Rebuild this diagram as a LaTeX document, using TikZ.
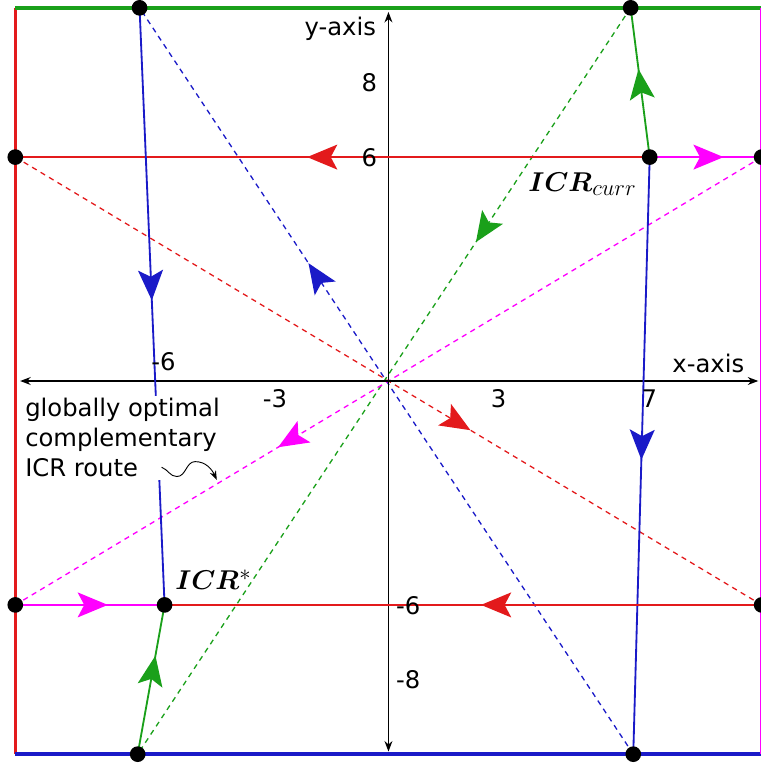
\documentclass[tikz,border=0pt]{standalone}
\usepackage{amsmath}
\usepackage{fontspec}
\setmainfont{DejaVu Sans}
\usetikzlibrary{arrows.meta,decorations.markings}
\definecolor{RouteRed}{HTML}{E31A1C}
\definecolor{RouteGreen}{HTML}{1AA01A}
\definecolor{RouteBlue}{HTML}{1A1AC8}
\definecolor{RouteMagenta}{HTML}{FF00FF}
\DeclareMathSizes{22}{22}{17.5}{13}

\tikzset{
  routetip/.tip={Stealth[length=23pt,width=19pt,inset=5pt]},
  flow/.style={postaction={decorate},decoration={markings,
    mark=at position #1 with {\arrow{routetip}}}},
  route/.style={line width=1.4pt},
  mirror/.style={line width=1pt,dash pattern=on 4pt off 3.5pt},
  border/.style={line width=2.6pt},
  axis/.style={line width=1.1pt,{Stealth[length=8pt,width=6pt]}-{Stealth[length=8pt,width=6pt]}},
  tick/.style={font=\fontsize{18.5}{23}\selectfont,inner sep=0pt},
  icr/.style={font=\fontsize{22}{26}\selectfont,inner sep=0pt},
}

\begin{document}
\begin{tikzpicture}
\useasboundingbox (-10.41,-10.29) rectangle (9.965,10.21);
% end points of the routes
\coordinate (ICRc) at (7,6);\coordinate (ICRs) at (-6,-6);
\coordinate (topL) at (-6.67,10);\coordinate (topR) at (6.49,10);
\coordinate (botL) at (-6.72,-10);\coordinate (botR) at (6.56,-10);
\coordinate (lftT) at (-10,6);\coordinate (rgtT) at (10,6);
\coordinate (lftB) at (-10,-6);\coordinate (rgtB) at (10,-6);
% frame
\draw[border,RouteRed] (-10,10)--(-10,-10);
\draw[border,RouteGreen] (-10,10)--(10,10);
\draw[border,RouteBlue] (-10,-10)--(10,-10);
\draw[border,RouteMagenta] (10,10)--(10,-10);
% mirrored routes through the origin
\draw[mirror,RouteBlue,flow=0.658] (botR)--(topL);
\draw[mirror,RouteGreen,flow=0.314] (topR)--(botL);
\draw[mirror,RouteRed,flow=0.61] (lftT)--(rgtB);
\draw[mirror,RouteMagenta,flow=0.648] (rgtT)--(lftB);
% axes
\coordinate (xL) at (-9.87,0);\coordinate (xR) at (9.91,0);
\coordinate (yB) at (0,-9.93);\coordinate (yT) at (0,9.89);
\draw[axis] (xL)--(xR);
\draw[axis] (yB)--(yT);
% routes from ICR_curr and ICR*
\draw[route,RouteRed,flow=0.54] (ICRc)--(lftT);
\draw[route,RouteMagenta,flow=0.66] (ICRc)--(rgtT);
\draw[route,RouteGreen,flow=0.59] (ICRc)--(topR);
\draw[route,RouteBlue,flow=0.507] (ICRc)--(botR);
\draw[route,RouteBlue,flow=0.49] (topL)--(ICRs);
\draw[route,RouteGreen,flow=0.66] (botL)--(ICRs);
\draw[route,RouteMagenta,flow=0.62] (lftB)--(ICRs);
\draw[route,RouteRed,flow=0.47] (rgtB)--(ICRs);
\foreach \p in {ICRc,ICRs,topL,topR,botL,botR,lftT,rgtT,lftB,rgtB}
  \fill (\p) circle (0.21);
% labels
\node[tick,anchor=base east] (ylab) at (-0.33,9.25) {y-axis};
\node[tick,anchor=base] (xlab) at (8.57,0.24) {x-axis};
\node[tick,anchor=base east] (t8) at (-0.3,7.75) {8};
\node[tick,anchor=base east] (t6) at (-0.3,5.74) {6};
\node[tick,anchor=base] (tm6x) at (-6.03,0.27) {-6};
\node[tick,anchor=base] (tm3) at (-3.04,-0.72) {-3};
\node[tick,anchor=base] (t3) at (2.95,-0.72) {3};
\node[tick,anchor=base] (t7) at (6.99,-0.70) {7};
\node[tick,anchor=base] (tm6y) at (0.53,-6.25) {-6};
\node[tick,anchor=base] (tm8) at (0.53,-8.23) {-8};
\node[icr,anchor=base west] (curr) at (3.74,5.07) {$\boldsymbol{ICR}_{curr}$};
\node[icr,anchor=base west] (best) at (-5.72,-5.60) {$\boldsymbol{ICR}^{*}$};
\node[tick,fill=white,inner sep=2pt,align=left,anchor=west] (note) at (-9.81,-1.52)
  {globally optimal\\complementary\\ICR route};
\coordinate (waveS) at (-6.08,-2.31);\coordinate (waveT) at (-5.67,-2.56);
\coordinate (waveP) at (-5.18,-2.16);\coordinate (waveE) at (-4.60,-2.65);
\draw[line width=0.7pt,-{Stealth[length=7pt,width=5pt]}] (waveS) to[out=-20,in=180] (waveT)
  to[out=0,in=180] (waveP) to[out=0,in=115] (waveE);
\end{tikzpicture}
\end{document}
